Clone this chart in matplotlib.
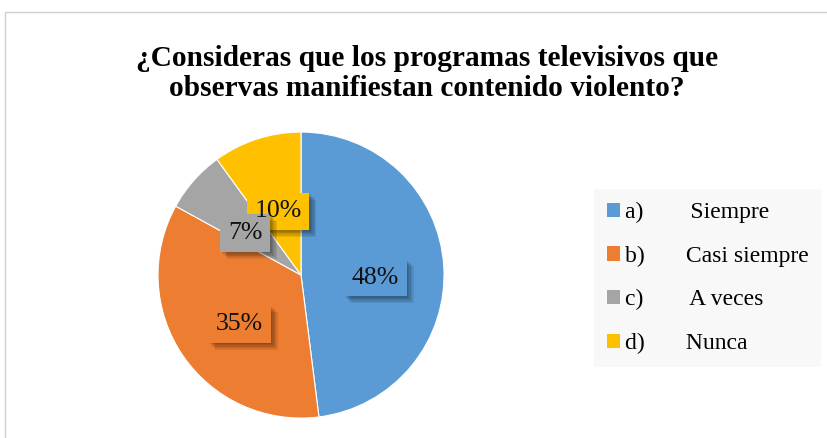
import matplotlib.pyplot as plt
import matplotlib.patheffects as pe
from matplotlib.patches import Rectangle, Patch
import numpy as np

# datos de la encuesta
letras = ['a)', 'b)', 'c)', 'd)']
respuestas = ['Siempre', 'Casi siempre', 'A veces', 'Nunca']
porcentajes = [48, 35, 7, 10]
colores = ['#5B9BD5', '#ED7D31', '#A5A5A5', '#FFC000']

titulo = '¿Consideras que los programas televisivos que\nobservas manifiestan contenido violento?'

plt.rcParams['font.family'] = ['Liberation Serif', 'DejaVu Serif']

fig = plt.figure(figsize=(8.27, 4.38), dpi=100)
fig.patch.set_facecolor('white')

# marco del grafico
fig.patches.append(Rectangle((5 / 827, -0.1), 1.1, 1 - 12 / 438 + 0.1,
                             transform=fig.transFigure, fill=False,
                             edgecolor='#cfcfcf', linewidth=1))

fig.text(0.516, 0.833, titulo, ha='center', va='center', fontsize=21.2,
         fontweight='bold', linespacing=1.15)

ax = fig.add_axes([0.191, 0.0455, 0.346, 0.653])
wedges, _ = ax.pie(porcentajes, colors=colores, startangle=90, counterclock=False,
                   radius=1, wedgeprops=dict(edgecolor='white', linewidth=0.8))
ax.set_xlim(-1, 1)
ax.set_ylim(-1, 1)
ax.set_aspect('equal')
ax.axis('off')

# sombra suave (varias capas)
sombra = [pe.withSimplePatchShadow(offset=(k, -k), shadow_rgbFace='black', alpha=0.09)
          for k in (1, 2, 3, 4, 5)]

# etiquetas: primero las cajas con sombra, luego los textos encima
for i, (w, p, c) in enumerate(zip(wedges, porcentajes, colores)):
    ang = np.deg2rad((w.theta1 + w.theta2) / 2)
    r = 0.52
    x, y = r * np.cos(ang), r * np.sin(ang) - 0.05
    caja = ax.text(x, y, f'{p}%', ha='center', va='center', fontsize=18.5,
                   color='none', zorder=10 - i,
                   bbox=dict(boxstyle='square,pad=0.3', facecolor=c, edgecolor='none'))
    caja.get_bbox_patch().set_path_effects(sombra + [pe.Normal()])
    ax.text(x, y, f'{p}%', ha='center', va='center', fontsize=18.5,
            color='#111111', zorder=20)

# leyenda
espacios = [8, 7, 8, 7]
etiquetas = [l + ' ' * n + r for l, n, r in zip(letras, espacios, respuestas)]
handles = [Patch(facecolor=c, edgecolor='none') for c in colores]
leg = fig.legend(handles, etiquetas, loc='center left',
                 bbox_to_anchor=(594 / 827, 1 - 278 / 438), fontsize=17,
                 frameon=True, fancybox=False, handlelength=0.55, handleheight=0.55,
                 handletextpad=0.2, labelspacing=0.95, borderpad=0.55,
                 borderaxespad=0)
leg.get_frame().set_facecolor('#f8f8f8')
leg.get_frame().set_edgecolor('none')
leg.get_frame().set_alpha(1)

fig.savefig('out.png', dpi=100)
